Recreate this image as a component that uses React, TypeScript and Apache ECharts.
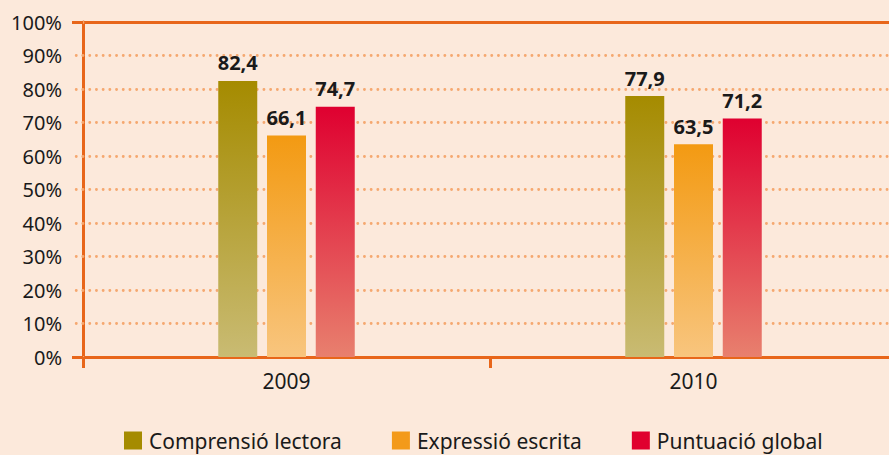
import React, { useEffect, useRef } from "react";
import * as echarts from "echarts";

const categories = ["2009", "2010"];
const comprensio = [82.4, 77.9];
const expressio = [66.1, 63.5];
const puntuacio = [74.7, 71.2];
const seriesNames = ["Comprensió lectora", "Expressió escrita", "Puntuació global"];
const yTicks = [0, 10, 20, 30, 40, 50, 60, 70, 80, 90, 100];

const FONT = "Noto Sans";
const ORANGE = "#e8661a";
const DOT = "#f5a870";

function grad(top: string, bottom: string) {
  return new echarts.graphic.LinearGradient(0, 0, 0, 1, [
    { offset: 0, color: top },
    { offset: 1, color: bottom },
  ]);
}

export default function App() {
  const ref = useRef<HTMLDivElement>(null);
  useEffect(() => {
    if (!ref.current) return;
    const chart = echarts.init(ref.current, undefined, { renderer: "svg" });
    const label = {
      show: true,
      position: "top" as const,
      distance: 8,
      fontFamily: FONT,
      fontWeight: "bold" as const,
      fontSize: 20,
      color: "#1a1a1a",
      formatter: (p: any) => String(p.value.toFixed(1)).replace(".", ","),
    };
    const mk = (name: string, data: number[], top: string, bottom: string) => ({
      name,
      type: "bar",
      data,
      barWidth: 39,
      barGap: "25%",
      itemStyle: { color: grad(top, bottom) },
      label,
      yAxisIndex: 0,
    });
    const s1 = mk(seriesNames[0], comprensio, "#a58b00", "#c9bb73");
    const s2 = mk(seriesNames[1], expressio, "#f39a12", "#f8c57e");
    const s3 = mk(seriesNames[2], puntuacio, "#df0030", "#e8806e");
    const dotted = { color: DOT, width: 2.8, type: [0.1, 6.6], cap: "round" };
    chart.setOption({
      animation: false,
      backgroundColor: "#fce9db",
      textStyle: { fontFamily: FONT },
      grid: { left: 83, right: 2, top: 22, bottom: 98, containLabel: false },
      legend: {
        left: 119,
        top: 425,
        icon: "rect",
        itemWidth: 18,
        itemHeight: 18,
        itemGap: 50,
        data: [
          { name: seriesNames[0], itemStyle: { color: "#a58b00" } },
          { name: seriesNames[1], itemStyle: { color: "#f39a1a" } },
          { name: seriesNames[2], itemStyle: { color: "#e0002e" } },
        ],
        textStyle: { fontFamily: FONT, fontSize: 21, color: "#1a1a1a", padding: [0, 0, 0, 2] },
      },
      xAxis: {
        type: "category",
        data: categories,
        axisLine: { lineStyle: { color: ORANGE, width: 3 } },
        axisTick: { show: true, length: 11, lineStyle: { color: ORANGE, width: 3 } },
        axisLabel: { fontFamily: FONT, fontSize: 21, color: "#1a1a1a", margin: 13 },
      },
      yAxis: [
        {
          type: "value",
          min: 0,
          max: 100,
          interval: 10,
          axisLine: { show: true, lineStyle: { color: ORANGE, width: 3 } },
          axisTick: { show: true, length: 11, lineStyle: dotted },
          splitLine: { show: true, lineStyle: dotted },
          axisLabel: {
            fontFamily: FONT,
            fontSize: 20,
            color: "#1a1a1a",
            margin: 21,
            formatter: (v: number) => (yTicks.includes(v) ? v + "%" : ""),
          },
        },
        {
          type: "value",
          position: "left",
          min: 0,
          max: 100,
          interval: 100,
          axisLine: { show: false },
          axisTick: { show: true, length: 11, lineStyle: { color: ORANGE, width: 3 } },
          splitLine: { show: true, lineStyle: { color: ORANGE, width: 3 } },
          axisLabel: { show: false },
        },
      ],
      series: [s1, s2, s3],
    });
    return () => chart.dispose();
  }, []);
  return <div ref={ref} style={{ width: 899, height: 455, position: "fixed", left: 0, top: 0 }} />;
}
